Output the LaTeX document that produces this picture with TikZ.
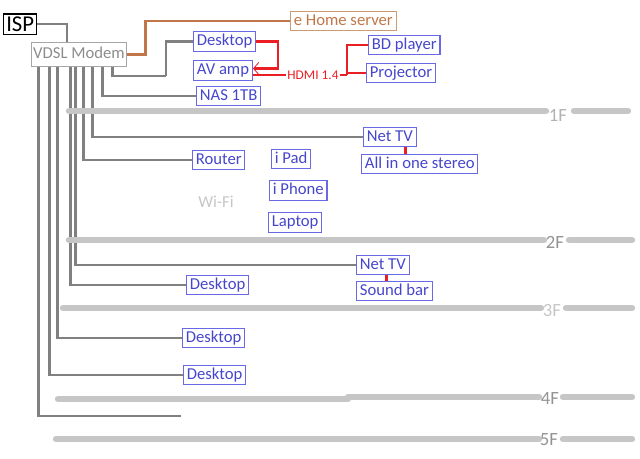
\documentclass[tikz,border=0pt]{standalone}
\usepackage{fontspec}
\setmainfont{Carlito}
\usetikzlibrary{calc}
\usetikzlibrary{arrows.meta}
\definecolor{devblue}{RGB}{70,70,205}
\definecolor{devframe}{RGB}{105,105,230}
\definecolor{wiregray}{RGB}{128,128,128}
\definecolor{floorgray}{RGB}{198,198,198}
\definecolor{hdmired}{RGB}{235,30,35}
\definecolor{serverbrown}{RGB}{192,118,72}
\definecolor{serverframe}{RGB}{205,155,115}

\begin{document}
\begin{tikzpicture}[x=0.75pt, y=-0.75pt,
device/.style={draw=devframe, line width=0.8pt, text=devblue, font=\fontsize{12.5}{14}\selectfont, inner xsep=2.5pt, inner ysep=1.6pt, text height=8.8pt, text depth=2.6pt, anchor=west},
modembox/.style={draw=gray!70, line width=0.8pt, text=gray!90, font=\fontsize{12.5}{14}\selectfont, inner xsep=1.5pt, inner ysep=3pt, text height=8.8pt, text depth=2.6pt},
wire/.style={draw=wiregray, line width=1.8pt},
serverwire/.style={draw=serverbrown, line width=1.8pt},
hdmi/.style={draw=hdmired, line width=1.8pt},
floorline/.style={draw=floorgray, line width=4.8pt, line cap=round},
floorlabel/.style={font=\fontsize{14}{16}\selectfont, inner sep=1pt}]
\useasboundingbox (0,0) rectangle (640,458);
\node[draw=black, line width=0.9pt, font=\fontsize{17}{19}\selectfont, inner xsep=2pt, inner ysep=2pt, anchor=west] (isp) at (3,24) {ISP};
\node[modembox] (modem) at (79,54.5) {VDSL Modem};
\node[device, draw=serverframe, text=serverbrown] (ehome) at (290,21) {e Home server};
\draw[wire] (isp.east) -| ($(modem.north)+(-12,0)$);
\draw[serverwire] (modem.east) -- ++(18,0) |- (ehome.west);
%%%%%%%%%% 1F %%%%%%%%%%%
\node[device] (desk1) at (193,41.5) {Desktop};
\node[device] (avamp) at (193,70.5) {AV amp};
\node[device] (nas) at (196,96) {NAS 1TB};
\node[device] (bd) at (368,45) {BD player};
\node[device] (proj) at (366,73) {Projector};
\node[text=hdmired, font=\fontsize{10}{12}\selectfont, inner sep=1pt] (hdmi) at (313,75) {HDMI 1.4};
\coordinate (hub1) at (166,76);
\coordinate (hub2) at (347,75);
\draw[wire] ($(modem.south west)+(82,0)$) |- (hub1);
\draw[wire] (desk1.west) -| (hub1);
\draw[wire] ($(avamp.west)+(0,-2)$) -- ($(avamp.west)+(0,-2)$ -| hub1);
\draw[wire] ($(modem.south west)+(72,0)$) |- (nas.west);
\draw[hdmi, -{Straight Barb[length=4pt, width=9pt, line width=0.6pt]}] (desk1.east) -- ++(22,0) |- ($(avamp.east)+(0,-2)$);
\draw[hdmi] (hdmi.west -| avamp.east) -- (hdmi.west);
\draw[hdmi] (hdmi.east) -- (hub2);
\draw[hdmi] (bd.west) -| (hub2);
\draw[hdmi] (proj.west) -- (proj.west -| hub2);
\node[device] (nettv1) at (363,137) {Net TV};
\node[device] (stereo) at (361,164) {All in one stereo};
\node[device] (router) at (192,160) {Router};
\node[device] (ipad) at (271,159) {i Pad};
\node[device] (iphone) at (269,190.5) {i Phone};
\node[device] (laptop) at (268,222.5) {Laptop};
\node[text=gray!45, font=\fontsize{12.5}{14}\selectfont] (wifi) at (216,202) {Wi-Fi};
\draw[wire] ($(modem.south west)+(62,0)$) |- (nettv1.west);
\draw[wire] ($(modem.south west)+(53,0)$) |- (router.west);
\draw[hdmi] ($(nettv1.south east)+(-11,0)$) coordinate (r1) -- (r1 |- stereo.north);
%%%%%%%%%% 2F %%%%%%%%%%%
\node[device] (nettv2) at (356,265) {Net TV};
\node[device] (soundbar) at (356,291) {Sound bar};
\node[device] (desk2) at (186,285) {Desktop};
\draw[wire] ($(modem.south west)+(45,0)$) |- (nettv2.west);
\draw[wire] ($(modem.south west)+(40,0)$) |- (desk2.west);
\draw[hdmi] ($(nettv2.south east)+(-23,0)$) coordinate (r2) -- (r2 |- soundbar.north);
%%%%%%%%%% 3F, 4F, 5F %%%%%%%%%%%
\node[device] (desk3) at (182,338) {Desktop};
\node[device] (desk4) at (183,375) {Desktop};
\coordinate (free) at (181,416);
\draw[wire] ($(modem.south west)+(27,0)$) |- (desk3.west);
\draw[wire] ($(modem.south west)+(19,0)$) |- (desk4.west);
\draw[wire] ($(modem.south west)+(8,0)$) |- (free);
%%%%%%%%%% floors %%%%%%%%%%%
\node[floorlabel, text=gray!60] (f1) at (558,115) {1F};
\node[floorlabel, text=gray!85] (f2) at (555,242) {2F};
\node[floorlabel, text=gray!45] (f3) at (552,311) {3F};
\node[floorlabel, text=gray!85] (f4) at (550,399) {4F};
\node[floorlabel, text=gray!85] (f5) at (549,440) {5F};
\draw[floorline] (69,111) -- (546,111) (574,111) -- (628,111);
\draw[floorline] (69,240) -- (544,240) (569,240) -- (632,240);
\draw[floorline] (63,308) -- (541,308) (566,308) -- (632,308);
\draw[floorline] (58,399) -- (348,399) (348,397) -- (539,397) (563,397) -- (632,397);
\draw[floorline] (56,439) -- (539,439) (563,439) -- (632,439);
\end{tikzpicture}
\end{document}
